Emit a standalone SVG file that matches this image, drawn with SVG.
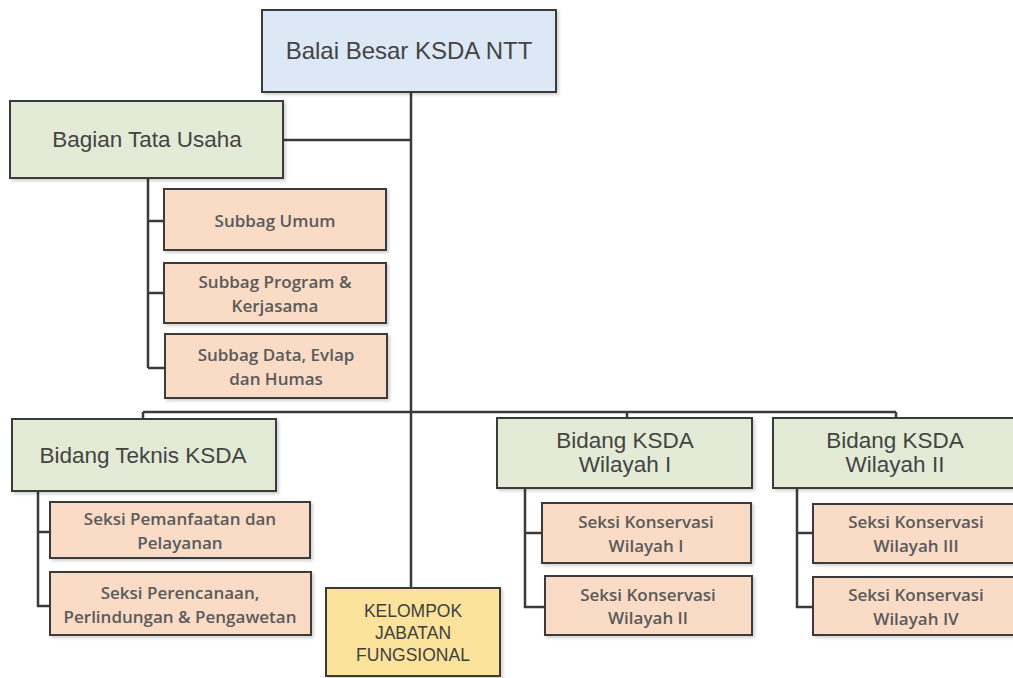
<svg xmlns="http://www.w3.org/2000/svg" width="1013" height="678" viewBox="0 0 1013 678">
<defs>
<filter id="sh" x="-5%" y="-5%" width="115%" height="125%"><feDropShadow dx="2" dy="2" stdDeviation="1.5" flood-color="#000" flood-opacity="0.18"/></filter>
<style>
.box{stroke:#3b3b3b;stroke-width:2;filter:url(#sh)}
.blue{fill:#dce8f6}
.green{fill:#e3ebd6}
.peach{fill:#f9dbc6}
.yellow{fill:#fbe39c}
.big{font-family:"Liberation Sans",Arial,sans-serif;font-size:22.5px;fill:#444;text-anchor:middle}
.top{font-size:24px}
.sm{font-family:"Open Sans","Liberation Sans",sans-serif;font-size:17px;font-weight:600;fill:#5a5a5a;text-anchor:middle}
.kel{font-family:"Liberation Sans",Arial,sans-serif;font-size:17.5px;fill:#3f3f3f;text-anchor:middle}
.ln{stroke:#3b3b3b;stroke-width:2.5;fill:none}
</style>
</defs>
<rect width="1013" height="678" fill="#ffffff"/>
<g id="connectors">
<path class="ln" d="M411 92 V588"/>
<path class="ln" d="M284 140 H411"/>
<path class="ln" d="M148 178 V368 M148 221 H164 M148 293 H164 M148 368 H165"/>
<path class="ln" d="M143 412 H896 M143 412 V420 M627 412 V418 M896 412 V418"/>
<path class="ln" d="M38 491 V606 H50 M38 532 H50"/>
<path class="ln" d="M525 488 V607 H545 M525 533 H542"/>
<path class="ln" d="M797 488 V607 H813 M797 533 H813"/>
</g>
<g id="balai"><rect class="box blue" x="262" y="10" width="294" height="82"/><text class="big top" x="409" y="59">Balai Besar KSDA NTT</text></g>
<g id="tatausaha"><rect class="box green" x="10" y="101" width="273" height="77"/><text class="big" x="147" y="147">Bagian Tata Usaha</text></g>
<g id="umum"><rect class="box peach" x="164" y="189" width="222" height="61"/><text class="sm" x="275" y="227">Subbag Umum</text></g>
<g id="program"><rect class="box peach" x="164" y="263" width="222" height="60"/><text class="sm" x="275" y="288">Subbag Program &amp;</text><text class="sm" x="275" y="312">Kerjasama</text></g>
<g id="data"><rect class="box peach" x="165" y="334" width="222" height="64"/><text class="sm" x="276" y="361">Subbag Data, Evlap</text><text class="sm" x="276" y="385">dan Humas</text></g>
<g id="teknis"><rect class="box green" x="12" y="419" width="264" height="72"/><text class="big" x="143" y="463">Bidang Teknis KSDA</text></g>
<g id="pemanfaatan"><rect class="box peach" x="50" y="502" width="260" height="56"/><text class="sm" x="180" y="525">Seksi Pemanfaatan dan</text><text class="sm" x="180" y="549">Pelayanan</text></g>
<g id="perencanaan"><rect class="box peach" x="50" y="572" width="261" height="63"/><text class="sm" x="180" y="599">Seksi Perencanaan,</text><text class="sm" x="180" y="623">Perlindungan &amp; Pengawetan</text></g>
<g id="kelompok"><rect class="box yellow" x="326" y="588" width="174" height="88"/><text class="kel" x="413" y="617">KELOMPOK</text><text class="kel" x="413" y="639">JABATAN</text><text class="kel" x="413" y="661">FUNGSIONAL</text></g>
<g id="wil1"><rect class="box green" x="497" y="418" width="255" height="70"/><text class="big" x="625" y="448">Bidang KSDA</text><text class="big" x="625" y="472">Wilayah I</text></g>
<g id="sk1"><rect class="box peach" x="542" y="503" width="209" height="60"/><text class="sm" x="646" y="528">Seksi Konservasi</text><text class="sm" x="646" y="552">Wilayah I</text></g>
<g id="sk2"><rect class="box peach" x="545" y="576" width="207" height="59"/><text class="sm" x="648" y="601">Seksi Konservasi</text><text class="sm" x="648" y="624">Wilayah II</text></g>
<g id="wil2"><rect class="box green" x="773" y="418" width="250" height="70"/><text class="big" x="895" y="448">Bidang KSDA</text><text class="big" x="895" y="472">Wilayah II</text></g>
<g id="sk3"><rect class="box peach" x="813" y="504" width="210" height="59"/><text class="sm" x="916" y="528">Seksi Konservasi</text><text class="sm" x="916" y="552">Wilayah III</text></g>
<g id="sk4"><rect class="box peach" x="813" y="577" width="210" height="58"/><text class="sm" x="916" y="601">Seksi Konservasi</text><text class="sm" x="916" y="625">Wilayah IV</text></g>
</svg>
